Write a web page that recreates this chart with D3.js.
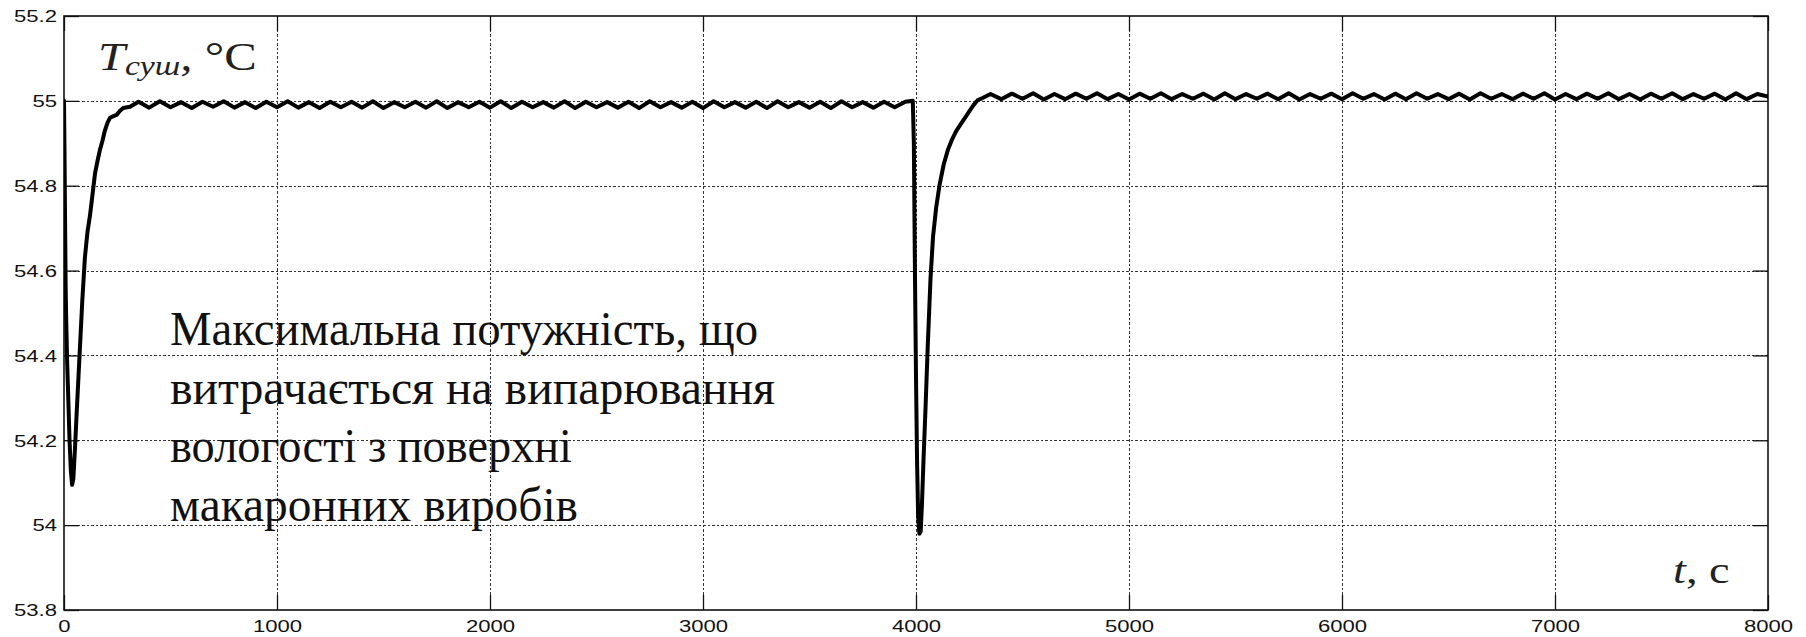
<!DOCTYPE html>
<html>
<head>
<meta charset="utf-8">
<script src="https://cdn.jsdelivr.net/npm/d3@7/dist/d3.min.js"></script>
<style>
  html, body { margin: 0; padding: 0; background: #fff; }
  svg { display: block; }
</style>
</head>
<body>
<svg id="chart" width="1806" height="637"></svg>
<script>
// Drying-chamber temperature response, two disturbance events
const xTicks = [0, 1000, 2000, 3000, 4000, 5000, 6000, 7000, 8000];
const yTicks = [53.8, 54, 54.2, 54.4, 54.6, 54.8, 55, 55.2];

// first disturbance: drop at t = 0 and recovery
const firstDropT = [0, 2, 5, 8, 11, 15, 20, 26, 32, 38, 44, 52, 60, 68, 75, 86, 98, 110, 122, 134, 146, 158, 169, 180, 192, 204, 216, 232, 247, 262, 278, 310];
const firstDropV = [55.0, 54.9, 54.72, 54.55, 54.47, 54.38, 54.3, 54.2, 54.13, 54.095, 54.11, 54.185, 54.27, 54.35, 54.42, 54.53, 54.63, 54.69, 54.73, 54.78, 54.83, 54.86, 54.885, 54.905, 54.93, 54.948, 54.96, 54.964, 54.967, 54.976, 54.983, 54.986];

// settled ripple before second disturbance
const firstCycleT = [350,400,450,500,550,600,650,700,750,800,850,900,950,1000,1050,1100,1150,1200,1250,1300,1350,1400,1450,1500,1550,1600,1650,1700,1750,1800,1850,1900,1950,2000,2050,2100,2150,2200,2250,2300,2350,2400,2450,2500,2550,2600,2650,2700,2750,2800,2850,2900,2950,3000,3050,3100,3150,3200,3250,3300,3350,3400,3450,3500,3550,3600,3650,3700,3750,3800,3850,3900,3950];
const firstCycleV = [
  54.998,54.984,54.999,54.985,54.997,54.983,54.998,54.986,54.999,54.984,
  54.997,54.983,54.998,54.985,54.999,54.984,54.997,54.983,54.998,54.985,
  54.998,54.984,54.999,54.983,54.997,54.985,54.998,54.984,54.999,54.983,
  54.997,54.985,54.998,54.984,54.999,54.983,54.998,54.985,54.997,54.984,
  54.999,54.983,54.998,54.985,54.997,54.984,54.998,54.983,54.999,54.985,
  54.997,54.984,54.998,54.983,54.999,54.985,54.997,54.984,54.998,54.983,
  54.999,54.985,54.997,54.984,54.998,54.983,54.999,54.985,54.997,54.984,
  54.998,54.985,54.998
];

// second disturbance at t = 4000
const secondDropT = [3985, 3990, 3995, 4000, 4005, 4010, 4016, 4022, 4028, 4035, 4045, 4055, 4068, 4080, 4095, 4110, 4130, 4150, 4170, 4190, 4210, 4230, 4250, 4270, 4290, 4310];
const secondDropV = [55.0, 54.9, 54.6, 54.35, 54.15, 54.02, 53.98, 53.985, 54.05, 54.15, 54.28, 54.42, 54.58, 54.68, 54.75, 54.8, 54.85, 54.885, 54.91, 54.93, 54.945, 54.96, 54.975, 54.99, 55.002, 55.006];

// settled ripple after second disturbance
const secondCycleT = [4350,4400,4450,4500,4550,4600,4650,4700,4750,4800,4850,4900,4950,5000,5050,5100,5150,5200,5250,5300,5350,5400,5450,5500,5550,5600,5650,5700,5750,5800,5850,5900,5950,6000,6050,6100,6150,6200,6250,6300,6350,6400,6450,6500,6550,6600,6650,6700,6750,6800,6850,6900,6950,7000,7050,7100,7150,7200,7250,7300,7350,7400,7450,7500,7550,7600,7650,7700,7750,7800,7850,7900,7950,8000];
const secondCycleV = [
  55.016,55.004,55.017,55.005,55.018,55.003,55.016,55.004,55.017,55.005,
  55.018,55.004,55.016,55.003,55.017,55.005,55.018,55.004,55.016,55.005,
  55.017,55.003,55.018,55.004,55.016,55.005,55.017,55.004,55.018,55.003,
  55.016,55.005,55.017,55.004,55.018,55.005,55.016,55.003,55.017,55.004,
  55.018,55.005,55.016,55.004,55.017,55.003,55.018,55.005,55.016,55.004,
  55.017,55.005,55.018,55.003,55.016,55.004,55.017,55.005,55.018,55.004,
  55.016,55.003,55.017,55.005,55.018,55.004,55.016,55.005,55.017,55.003,
  55.018,55.004,55.016,55.010
];

const noteLines = [
  "Максимальна потужність, що",
  "витрачається на випарювання",
  "вологості з поверхні",
  "макаронних виробів"
];

const svg = d3.select("#chart");
const plotL = 64, plotR = 1768, plotT = 16, plotB = 610;
const x = d3.scaleLinear().domain([0, 8000]).range([plotL, plotR]);
const y = d3.scaleLinear().domain([53.8, 55.2]).range([plotB, plotT]);
const stretch = 1.38;

// grid
const grid = svg.append("g").attr("stroke", "#333").attr("stroke-width", 1)
  .attr("stroke-dasharray", "2.5,2").attr("shape-rendering", "crispEdges");
grid.selectAll("line.v").data(xTicks.slice(1, -1)).join("line")
  .attr("x1", d => Math.round(x(d)) + 0.5).attr("x2", d => Math.round(x(d)) + 0.5)
  .attr("y1", plotT).attr("y2", plotB);
grid.selectAll("line.h").data(yTicks.slice(1, -1)).join("line")
  .attr("y1", d => Math.round(y(d)) + 0.5).attr("y2", d => Math.round(y(d)) + 0.5)
  .attr("x1", plotL).attr("x2", plotR);

// axes (inward ticks on all four sides)
const tickLen = -15;
const fontAxis = "'Liberation Sans', Arial, sans-serif";

const gB = svg.append("g").attr("transform", `translate(0,${plotB})`)
  .call(d3.axisBottom(x).tickValues(xTicks).tickSizeInner(tickLen).tickSizeOuter(0).tickFormat(d3.format("d")));
gB.selectAll("text").attr("y", 22).attr("dy", 0)
  .attr("transform", `scale(${stretch},1)`)
  .style("font-family", fontAxis).style("font-size", "16px").attr("fill", "#111");

const gL = svg.append("g").attr("transform", `translate(${plotL},0)`)
  .call(d3.axisLeft(y).tickValues(yTicks).tickSizeInner(tickLen).tickSizeOuter(0).tickFormat(d => String(+d.toFixed(1))));
gL.selectAll("text").attr("x", 0).attr("dy", "0.36em")
  .attr("transform", `translate(-7,0) scale(${stretch},1)`)
  .style("font-family", fontAxis).style("font-size", "16px").attr("fill", "#111");

const gT = svg.append("g").attr("transform", `translate(0,${plotT})`)
  .call(d3.axisTop(x).tickValues(xTicks).tickSizeInner(tickLen).tickSizeOuter(0).tickFormat(""));
const gR = svg.append("g").attr("transform", `translate(${plotR},0)`)
  .call(d3.axisRight(y).tickValues(yTicks).tickSizeInner(tickLen).tickSizeOuter(0).tickFormat(""));

[gB, gL, gT, gR].forEach(g => {
  g.select(".domain").remove();
  g.selectAll(".tick line").attr("stroke", "#111").attr("stroke-width", 1.3);
});

// frame
svg.append("rect").attr("x", plotL).attr("y", plotT)
  .attr("width", plotR - plotL).attr("height", plotB - plotT)
  .attr("fill", "none").attr("stroke", "#111").attr("stroke-width", 1.6);

// temperature curve
const series = d3.zip(
  [].concat(firstDropT, firstCycleT, secondDropT, secondCycleT),
  [].concat(firstDropV, firstCycleV, secondDropV, secondCycleV)
);
svg.append("clipPath").attr("id", "plotClip").append("rect")
  .attr("x", plotL).attr("y", plotT).attr("width", plotR - plotL).attr("height", plotB - plotT);
svg.append("path").datum(series)
  .attr("clip-path", "url(#plotClip)")
  .attr("fill", "none").attr("stroke", "#000").attr("stroke-width", 4)
  .attr("stroke-linejoin", "round").attr("stroke-linecap", "round")
  .attr("d", d3.line().x(d => x(d[0])).y(d => y(d[1])));

// axis titles
const serif = "'Liberation Serif', 'Times New Roman', serif";
const yTitle = svg.append("text")
  .attr("transform", `translate(98,70) scale(1.25,1)`)
  .style("font-family", serif).style("font-weight", "normal").attr("fill", "#222");
yTitle.append("tspan").style("font-style", "italic").style("font-size", "39px").text("T");
yTitle.append("tspan").style("font-style", "italic").style("font-size", "27px").attr("dy", 5).text("суш");
yTitle.append("tspan").style("font-style", "italic").style("font-size", "39px").attr("dy", -5).text(",");
yTitle.append("tspan").style("font-size", "39px").text(" °C");

const xTitle = svg.append("text")
  .attr("transform", `translate(1673,583) scale(1.22,1)`)
  .style("font-family", serif).style("font-weight", "normal").attr("fill", "#222");
xTitle.append("tspan").style("font-style", "italic").style("font-size", "38px").text("t");
xTitle.append("tspan").style("font-size", "38px").text(", с");

// annotation
const noteWidths = [588, 605, 402, 408];
svg.append("g").selectAll("text").data(noteLines).join("text")
  .attr("x", 170).attr("y", (d, i) => 345 + i * 58.5)
  .attr("textLength", (d, i) => noteWidths[i]).attr("lengthAdjust", "spacingAndGlyphs")
  .style("font-family", serif).style("font-size", "48px").attr("fill", "#111")
  .text(d => d);
</script>
</body>
</html>
